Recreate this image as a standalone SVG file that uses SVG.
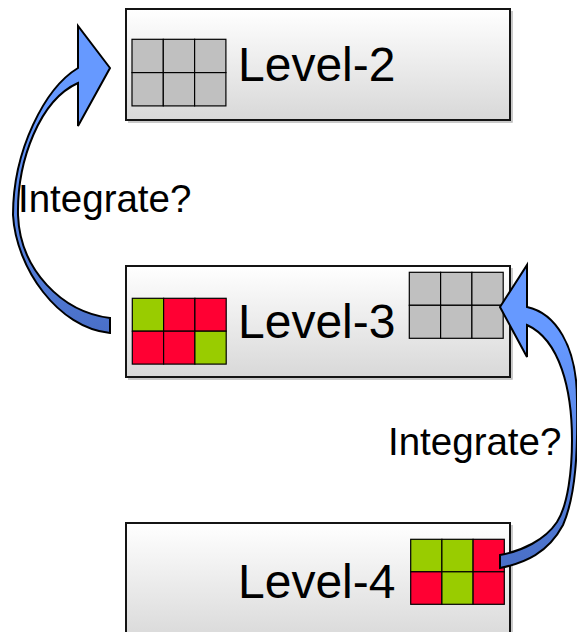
<svg xmlns="http://www.w3.org/2000/svg" width="577" height="632" viewBox="0 0 577 632">
  <defs>
    <linearGradient id="boxFill" x1="0" y1="0" x2="0" y2="1">
      <stop offset="0" stop-color="#ffffff"/>
      <stop offset="1" stop-color="#d8d8d8"/>
    </linearGradient>
    <linearGradient id="arrowLeftFill" gradientUnits="userSpaceOnUse" x1="0" y1="110" x2="0" y2="330">
      <stop offset="0" stop-color="#6699ff"/>
      <stop offset="1" stop-color="#4a70c8"/>
    </linearGradient>
    <linearGradient id="arrowRightFill" gradientUnits="userSpaceOnUse" x1="0" y1="340" x2="0" y2="560">
      <stop offset="0" stop-color="#6699ff"/>
      <stop offset="1" stop-color="#4a70c8"/>
    </linearGradient>
  </defs>
  <style>
    .box { fill: url(#boxFill); stroke: #141414; stroke-width: 2; }
    .shadow { fill: none; stroke: #b8b8b8; stroke-width: 1.5; }
    .cell { stroke: #000000; stroke-width: 1.2; }
    .gray { fill: #c0c0c0; }
    .green { fill: #99cc00; }
    .red { fill: #ff0033; }
    .label { font-family: "Liberation Sans", Arial, sans-serif; font-size: 48px; fill: #000000; }
    .note { font-family: "Liberation Sans", Arial, sans-serif; font-size: 38.5px; fill: #000000; }
    .arrow { stroke: #000000; stroke-width: 2; stroke-linejoin: miter; }
  </style>

  <rect width="577" height="632" fill="#ffffff"/>

  <!-- Level-2 -->
  <g id="level-2">
    <path class="shadow" d="M128,122 H512 V11"/>
    <rect class="box" x="126" y="9" width="384" height="111"/>
    <g id="level-2-grid">
      <rect class="cell gray" x="132" y="39.3" width="31.3" height="33.3"/>
      <rect class="cell gray" x="163.3" y="39.3" width="31.3" height="33.3"/>
      <rect class="cell gray" x="194.6" y="39.3" width="31.3" height="33.3"/>
      <rect class="cell gray" x="132" y="72.6" width="31.3" height="33.3"/>
      <rect class="cell gray" x="163.3" y="72.6" width="31.3" height="33.3"/>
      <rect class="cell gray" x="194.6" y="72.6" width="31.3" height="33.3"/>
    </g>
    <text class="label" x="238" y="81">Level-2</text>
  </g>

  <!-- Level-3 -->
  <g id="level-3">
    <path class="shadow" d="M128,379 H512 V268"/>
    <rect class="box" x="126" y="266" width="384" height="111"/>
    <g id="level-3-grid">
      <rect class="cell green" x="132.3" y="298.3" width="31.3" height="32.9"/>
      <rect class="cell red" x="163.6" y="298.3" width="31.3" height="32.9"/>
      <rect class="cell red" x="194.9" y="298.3" width="31.3" height="32.9"/>
      <rect class="cell red" x="132.3" y="331.2" width="31.3" height="32.9"/>
      <rect class="cell red" x="163.6" y="331.2" width="31.3" height="32.9"/>
      <rect class="cell green" x="194.9" y="331.2" width="31.3" height="32.9"/>
    </g>
    <g id="level-3-target-grid">
      <rect class="cell gray" x="409.3" y="272.3" width="31.3" height="33"/>
      <rect class="cell gray" x="440.6" y="272.3" width="31.3" height="33"/>
      <rect class="cell gray" x="471.9" y="272.3" width="31.3" height="33"/>
      <rect class="cell gray" x="409.3" y="305.3" width="31.3" height="33"/>
      <rect class="cell gray" x="440.6" y="305.3" width="31.3" height="33"/>
      <rect class="cell gray" x="471.9" y="305.3" width="31.3" height="33"/>
    </g>
    <text class="label" x="238" y="338">Level-3</text>
  </g>

  <!-- Level-4 -->
  <g id="level-4">
    <path class="shadow" d="M512,525 V634"/>
    <rect class="box" x="126" y="523" width="384" height="120"/>
    <g id="level-4-grid">
      <rect class="cell green" x="410.7" y="539.3" width="31.2" height="32.5"/>
      <rect class="cell green" x="441.9" y="539.3" width="31.2" height="32.5"/>
      <rect class="cell red" x="473.1" y="539.3" width="31.2" height="32.5"/>
      <rect class="cell red" x="410.7" y="571.8" width="31.2" height="32.5"/>
      <rect class="cell green" x="441.9" y="571.8" width="31.2" height="32.5"/>
      <rect class="cell red" x="473.1" y="571.8" width="31.2" height="32.5"/>
    </g>
    <text class="label" x="238" y="598">Level-4</text>
  </g>

  <!-- Connectors: curved block arrows with their labels -->
  <g id="connectors">
    <path id="arrow-3-to-2" class="arrow" fill="url(#arrowLeftFill)"
          d="M110,68 L78,26 L78,68
             C45,88 13,150 13,215
             C16,268 58,328 110,333
             L110,318
             C62,312 20,270 18,215
             C17,160 40,100 78,83
             L78,126 Z"/>
    <path id="arrow-4-to-3" class="arrow" fill="url(#arrowRightFill)"
          d="M500,307 L527,265 L527,307
             C555,313 577,345 577,400
             C578,450 576,495 563,525
             C548,553 525,563 500,568
             L500,555
             C522,551 545,540 557,522
             C568,505 572,470 572,440
             C572,390 560,340 527,325
             L527,357 Z"/>
    <text class="note" x="18" y="212">Integrate?</text>
    <text class="note" x="388" y="455">Integrate?</text>
  </g>
</svg>
